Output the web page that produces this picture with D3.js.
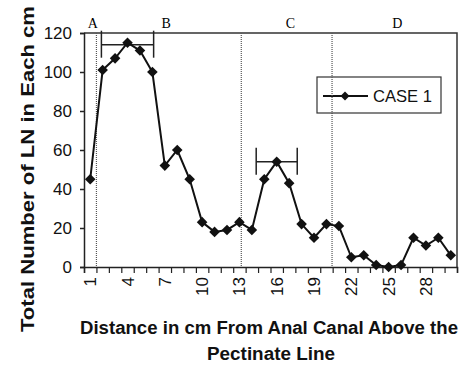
<!DOCTYPE html>
<html>
<head>
<meta charset="utf-8">
<script src="https://cdn.jsdelivr.net/npm/d3@7"></script>
<style>
  body { margin: 0; background: #fff; }
  svg { display: block; }
</style>
</head>
<body>
<div id="app"></div>
<script>
const width = 463;
const height = 371;
const plotLeft = 84, plotRight = 457, plotTop = 33, plotBottom = 267;

// data
const distance = d3.range(1, 31);
const lnCount = [45, 101, 107, 115, 111, 100, 52, 60, 45, 23, 18, 19, 23, 19, 45, 54, 43, 22, 15, 22,
                 21, 5, 6, 1, 0, 1, 15, 11, 15, 6];
const yTicks = [0, 20, 40, 60, 80, 100, 120];
const xLabels = [1, 4, 7, 10, 13, 16, 19, 22, 25, 28];
const zones = ['A', 'B', 'C', 'D'];
const zoneLabelAt = [1.2, 7.1, 17.1, 25.7];
const zoneLines = [1.5, 13.15, 20.45];
// error bars: [center cm, value, half width in cm]
const errBars = [[4, 114, 2.1], [16, 54, 1.65]];

const svg = d3.select('#app')
  .append('svg')
  .attr('width', width)
  .attr('height', height)
  .style('font-family', '"Liberation Sans", Arial, sans-serif');

const x = d3.scaleLinear().domain([0.5, 30.5]).range([plotLeft, plotRight]);
const y = d3.scaleLinear().domain([0, 120]).range([plotBottom, plotTop]);

// plot frame (top + right)
svg.append('path')
  .attr('d', `M${plotLeft},${plotTop}H${plotRight}V${plotBottom}`)
  .attr('fill', 'none')
  .attr('stroke', '#333')
  .attr('stroke-width', 1.5);

// zone separators
svg.selectAll('.zone')
  .data(zoneLines)
  .enter()
  .append('line')
  .attr('x1', d => x(d)).attr('x2', d => x(d))
  .attr('y1', plotTop).attr('y2', plotBottom)
  .attr('stroke', '#555')
  .attr('stroke-width', 1.2)
  .attr('stroke-dasharray', '1,1');

svg.selectAll('.zlab')
  .data(zones)
  .enter()
  .append('text')
  .attr('x', (d, i) => x(zoneLabelAt[i]))
  .attr('y', 28)
  .attr('text-anchor', 'middle')
  .style('font-family', '"Liberation Serif", "Times New Roman", serif')
  .style('font-size', '14px')
  .text(d => d);

// y axis
const axisY = d3.axisLeft(y).tickValues(yTicks).tickSize(4).tickPadding(8);
const gy = svg.append('g')
  .attr('transform', `translate(${plotLeft},0)`)
  .call(axisY);
gy.select('.domain').attr('stroke', '#222').attr('stroke-width', 1.5);
gy.selectAll('line').attr('stroke', '#222').attr('stroke-width', 1.5);
gy.selectAll('text').style('font-size', '17px').attr('fill', '#111')
  .style('font-family', '"Liberation Sans", Arial, sans-serif');

// x axis, ticks between categories
const axisX = d3.axisBottom(x).tickValues(d3.range(0.5, 31, 1)).tickSize(6).tickFormat('');
const gx = svg.append('g')
  .attr('transform', `translate(0,${plotBottom})`)
  .call(axisX);
gx.select('.domain').attr('stroke', '#222').attr('stroke-width', 1.5);
gx.selectAll('line').attr('stroke', '#222').attr('stroke-width', 1.2);

svg.selectAll('.xlab')
  .data(xLabels)
  .enter()
  .append('text')
  .attr('transform', d => `translate(${x(d) + 6},277) rotate(-90)`)
  .attr('text-anchor', 'end')
  .style('font-size', '17px')
  .attr('fill', '#111')
  .text(d => d);

// error bars
errBars.forEach(([c, v, hw]) => {
  const g = svg.append('g').attr('stroke', '#222').attr('stroke-width', 1.5);
  g.append('line').attr('x1', x(c - hw)).attr('x2', x(c + hw)).attr('y1', y(v)).attr('y2', y(v));
  [c - hw, c + hw].forEach(e => {
    g.append('line').attr('x1', x(e)).attr('x2', x(e)).attr('y1', y(v) - 14).attr('y2', y(v) + 13);
  });
});

// line + markers
const line = d3.line().x((d, i) => x(distance[i])).y(d => y(d));
svg.append('path')
  .datum(lnCount)
  .attr('d', line)
  .attr('fill', 'none')
  .attr('stroke', '#111')
  .attr('stroke-width', 2);

const diamond = d3.symbol().type(d3.symbolSquare).size(56);
svg.selectAll('.pt')
  .data(lnCount)
  .enter()
  .append('path')
  .attr('d', diamond)
  .attr('transform', (d, i) => `translate(${x(distance[i])},${y(d)}) rotate(45)`)
  .attr('fill', '#111');

// legend
const lg = svg.append('g');
lg.append('rect')
  .attr('x', 317).attr('y', 77).attr('width', 124).attr('height', 36)
  .attr('fill', '#fff').attr('stroke', '#333').attr('stroke-width', 1.2);
lg.append('line')
  .attr('x1', 323).attr('x2', 368).attr('y1', 96).attr('y2', 96)
  .attr('stroke', '#111').attr('stroke-width', 2);
lg.append('path')
  .attr('d', d3.symbol().type(d3.symbolSquare).size(40))
  .attr('transform', 'translate(345,96) rotate(45)')
  .attr('fill', '#111');
lg.append('text')
  .attr('x', 373).attr('y', 102)
  .attr('textLength', 59).attr('lengthAdjust', 'spacingAndGlyphs')
  .style('font-size', '17px')
  .attr('fill', '#111')
  .text('CASE 1');

// zone line through legend (drawn on top like the original)
svg.append('line')
  .attr('x1', x(zoneLines[2])).attr('x2', x(zoneLines[2]))
  .attr('y1', 77).attr('y2', 113)
  .attr('stroke', '#555').attr('stroke-width', 1.2).attr('stroke-dasharray', '1,1');

// axis titles
svg.append('text')
  .attr('transform', 'translate(34,169) rotate(-90)')
  .attr('text-anchor', 'middle')
  .attr('textLength', 326).attr('lengthAdjust', 'spacingAndGlyphs')
  .style('font-size', '18px').style('font-weight', 'bold')
  .attr('fill', '#111')
  .text('Total Number of LN in Each cm');

svg.append('text')
  .attr('x', 269).attr('y', 334)
  .attr('text-anchor', 'middle')
  .attr('textLength', 378).attr('lengthAdjust', 'spacingAndGlyphs')
  .style('font-size', '18px').style('font-weight', 'bold')
  .attr('fill', '#111')
  .text('Distance in cm From Anal Canal Above the');

svg.append('text')
  .attr('x', 271).attr('y', 360)
  .attr('text-anchor', 'middle')
  .attr('textLength', 128).attr('lengthAdjust', 'spacingAndGlyphs')
  .style('font-size', '18px').style('font-weight', 'bold')
  .attr('fill', '#111')
  .text('Pectinate Line');
</script>
</body>
</html>
